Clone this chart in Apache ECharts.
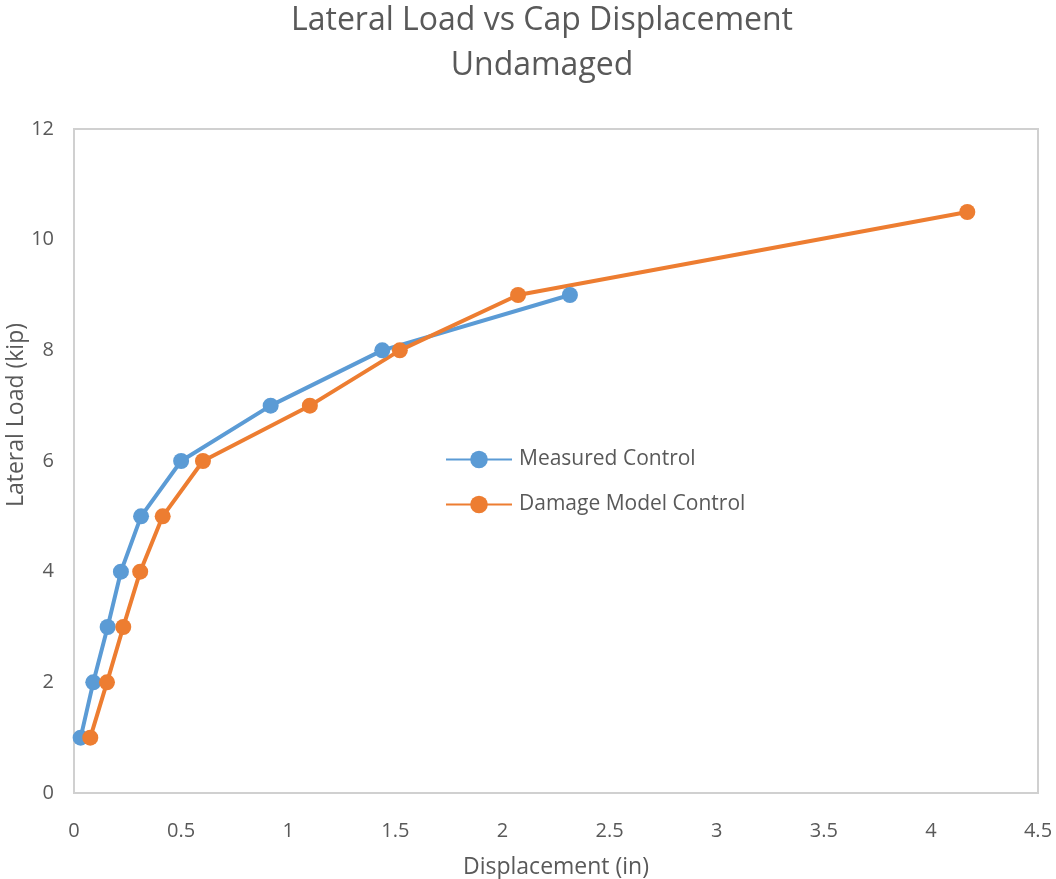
<!DOCTYPE html>
<html>
<head>
<meta charset="utf-8">
<script src="https://cdn.jsdelivr.net/npm/echarts@6/dist/echarts.min.js"></script>
<style>
  html, body { margin: 0; padding: 0; background: #fff; }
  #chart { width: 1056px; height: 879px; }
</style>
</head>
<body>
<div id="chart"></div>
<script>
// Lateral load levels (kip) and cap displacements (in)
const measuredLoad = [1, 2, 3, 4, 5, 6, 7, 8, 9];
const measuredDisp = [0.031, 0.09, 0.157, 0.219, 0.313, 0.50, 0.918, 1.439, 2.315];
const modelLoad = [1, 2, 3, 4, 5, 6, 7, 8, 9, 10.5];
const modelDisp = [0.076, 0.154, 0.23, 0.309, 0.414, 0.602, 1.101, 1.521, 2.073, 4.17];

const seriesNames = ['Measured Control', 'Damage Model Control'];
const colors = ['#5B9BD5', '#ED7D31'];
const FONT = '"Open Sans", "Noto Sans", sans-serif';

const pairs = (xs, ys) => xs.map((x, i) => [x, ys[i]]);

const chart = echarts.init(document.getElementById('chart'));
chart.setOption({
  animation: false,
  color: colors,
  title: {
    text: 'Lateral Load vs Cap Displacement\nUndamaged',
    left: 537,
    textAlign: 'center',
    top: -7,
    textStyle: { fontFamily: FONT, fontSize: 32, fontWeight: 'normal', color: '#595959', lineHeight: 45 }
  },
  grid: {
    left: 74, right: 18, top: 129, bottom: 86,
    outerBoundsMode: 'none',
    show: true, borderColor: '#d0d0d0', borderWidth: 2, backgroundColor: 'transparent'
  },
  legend: {
    orient: 'vertical',
    left: 445, top: 449, padding: 0,
    itemWidth: 66, itemHeight: 22, itemGap: 24,
    textStyle: { fontFamily: FONT, fontSize: 21, color: '#595959', padding: [0, 0, 0, 2] },
    data: seriesNames
  },
  xAxis: {
    type: 'value', min: 0, max: 4.5, interval: 0.5,
    name: 'Displacement (in)', nameLocation: 'middle', nameGap: 63,
    nameMoveOverlap: false,
    nameTextStyle: { fontFamily: FONT, fontSize: 23, color: '#595959' },
    axisLine: { show: false }, axisTick: { show: false }, splitLine: { show: false },
    axisLabel: { fontFamily: FONT, fontSize: 20, color: '#595959', margin: 28 }
  },
  yAxis: {
    type: 'value', min: 0, max: 12, interval: 2,
    name: 'Lateral Load (kip)', nameLocation: 'middle', nameGap: 46, nameRotate: 90,
    nameMoveOverlap: false,
    nameTextStyle: { fontFamily: FONT, fontSize: 23, color: '#595959', padding: [0, 0, 0, 92] },
    axisLine: { show: false }, axisTick: { show: false }, splitLine: { show: false },
    axisLabel: { fontFamily: FONT, fontSize: 20, color: '#595959', margin: 20 }
  },
  series: [
    {
      name: seriesNames[0], type: 'line', data: pairs(measuredDisp, measuredLoad),
      symbol: 'circle', symbolSize: 16, lineStyle: { width: 4 }
    },
    {
      name: seriesNames[1], type: 'line', data: pairs(modelDisp, modelLoad),
      symbol: 'circle', symbolSize: 16, lineStyle: { width: 4 }
    }
  ]
});
</script>
</body>
</html>
